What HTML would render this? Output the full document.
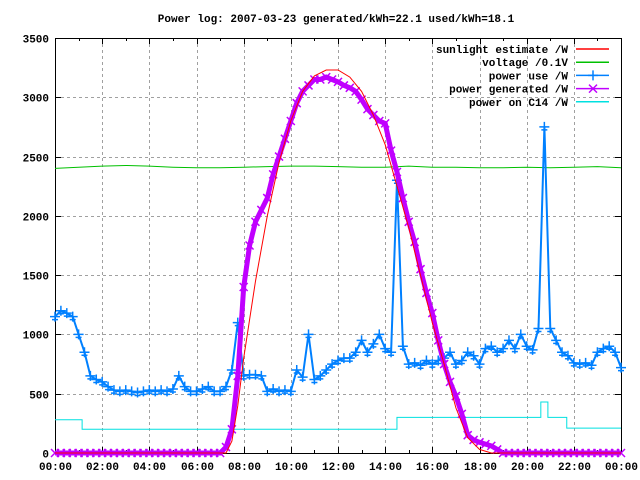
<!DOCTYPE html>
<html><head><meta charset="utf-8"><style>
html,body{margin:0;padding:0;background:#fff;}
svg{display:block;}
text{font-family:"Liberation Mono",monospace;font-size:11px;font-weight:bold;fill:#000;}
</style></head><body>
<svg id="chart" width="640" height="480" viewBox="0 0 640 480" xmlns="http://www.w3.org/2000/svg">
<text x="336" y="22" text-anchor="middle">Power log: 2007-03-23 generated/kWh=22.1 used/kWh=18.1</text>
<g id="grid"></g>
<g id="axes"></g>
<g id="series"></g>
<g id="legend"></g>
</svg>
<script>
const yTicks = [0,500,1000,1500,2000,2500,3000,3500];
const xTickLabels = ["00:00","02:00","04:00","06:00","08:00","10:00","12:00","14:00","16:00","18:00","20:00","22:00","00:00"];
const sunTimes = [0,7.25,7.5,7.75,8,8.5,9,9.5,10,10.5,11,11.5,12,12.5,13,13.5,14,14.5,15,15.5,16,16.5,17,17.5,18,18.5,24];
const sunValues = [0,0,100,400,800,1450,2000,2450,2800,3050,3180,3230,3230,3170,3050,2850,2600,2250,1900,1500,1100,750,380,130,30,0,0];
const voltTimes = [0,1,2,3,4,5,6,7,8,9,10,11,12,13,14,15,16,17,18,19,20,21,22,23,24];
const voltValues = [2400,2410,2420,2425,2420,2410,2405,2405,2410,2415,2420,2420,2415,2410,2410,2420,2410,2410,2405,2405,2410,2405,2410,2415,2405];
const useValues = [1150,1200,1180,1150,1000,850,650,620,600,560,530,520,530,520,510,520,530,520,530,520,540,650,560,520,520,540,560,520,520,560,700,1100,650,660,660,650,520,540,520,530,520,700,640,1000,620,650,700,750,780,800,800,850,950,850,920,1000,880,850,2300,900,750,760,740,780,750,780,800,850,750,780,850,820,750,880,900,850,880,950,880,1000,900,870,1050,2750,1050,950,850,820,760,750,760,740,850,880,900,850,720];
const genValues = [0,0,0,0,0,0,0,0,0,0,0,0,0,0,0,0,0,0,0,0,0,0,0,0,0,0,0,0,0,50,200,650,1400,1750,1950,2050,2150,2350,2500,2650,2800,2950,3050,3100,3150,3150,3170,3150,3130,3100,3080,3050,2980,2900,2850,2800,2780,2550,2370,2150,1950,1780,1550,1350,1180,950,750,600,480,330,150,110,90,75,60,30,0,0,0,0,0,0,0,0,0,0,0,0,0,0,0,0,0,0,0,0,0];
const c14Times = [0,1.15,14.5,20.6,20.9,21.7,24];
const c14Values = [280,200,300,430,300,210];

const X0=55,X1=621,Y0=453,Y1=38;
const xs=h=>X0+(X1-X0)*h/24;
const ys=v=>Y0-(Y0-Y1)*v/3500;
const NS="http://www.w3.org/2000/svg";
function mk(tag,parent,attrs){const e=document.createElementNS(NS,tag);for(const k in attrs)e.setAttribute(k,attrs[k]);parent.appendChild(e);return e;}
const grid=document.getElementById('grid'),axes=document.getElementById('axes'),series=document.getElementById('series'),legend=document.getElementById('legend');

yTicks.forEach(v=>{
  const y=Math.round(ys(v))+0.5;
  if(v>0&&v<3500){const g=mk('line',grid,{x1:X0,x2:X1,y1:y,y2:y,stroke:'#a0a0a0','stroke-dasharray':'3,3'});
  
  }
  mk('line',axes,{x1:X0,x2:X0+6,y1:y,y2:y,stroke:'#000'});
  mk('line',axes,{x1:X1-6,x2:X1,y1:y,y2:y,stroke:'#000'});
  const t=mk('text',axes,{x:X0-6,y:y+4,'text-anchor':'end'});t.textContent=v;
  
  
});
xTickLabels.forEach((lab,i)=>{
  const x=Math.round(xs(i*2))+0.5;
  if(i>0&&i<12){const g=mk('line',grid,{x1:x,x2:x,y1:Y1,y2:Y0,stroke:'#a0a0a0','stroke-dasharray':'3,3'});
  
  }
  mk('line',axes,{x1:x,x2:x,y1:Y0,y2:Y0-6,stroke:'#000'});
  mk('line',axes,{x1:x,x2:x,y1:Y1,y2:Y1+6,stroke:'#000'});
  const t=mk('text',axes,{x:x,y:Y0+17,'text-anchor':'middle'});t.textContent=lab;
  
  
});
for(let h=1;h<24;h+=2){const x=Math.round(xs(h))+0.5;
  mk('line',axes,{x1:x,x2:x,y1:Y0,y2:Y0-3,stroke:'#000'});
  mk('line',axes,{x1:x,x2:x,y1:Y1,y2:Y1+3,stroke:'#000'});}
const frame=mk('rect',axes,{x:X0+0.5,y:Y1+0.5,width:X1-X0,height:Y0-Y1,fill:'none',stroke:'#000'});



function pts(times,vals){return vals.map((v,i)=>xs(times[i]).toFixed(1)+','+ys(v).toFixed(1)).join(' ');}
const q=useValues.map((_,i)=>i*0.25);

const volt=mk('polyline',series,{points:pts(voltTimes,voltValues),fill:'none',stroke:'#00c000','stroke-width':1});


let sp=[];c14Values.forEach((v,i)=>{sp.push(xs(c14Times[i])+','+ys(v));sp.push(xs(c14Times[i+1])+','+ys(v));});
const c14=mk('polyline',series,{points:sp.join(' '),fill:'none',stroke:'#00e0e0','stroke-width':1});


const use=mk('polyline',series,{points:pts(q,useValues),fill:'none',stroke:'#0080ff','stroke-width':2});


useValues.forEach((v,i)=>{const x=xs(q[i]),y=ys(v);
  const p=mk('path',series,{d:`M${x-5},${y}h10M${x},${y-5}v10M${x-3},${y+3}h6`,stroke:'#0080ff','stroke-width':1.5});
  
  });
const gen=mk('polyline',series,{points:pts(q,genValues),fill:'none',stroke:'#c000ff','stroke-width':5});


genValues.forEach((v,i)=>{const x=xs(q[i]),y=ys(v);
  const p=mk('path',series,{d:`M${x-4},${y-4}l8,8M${x-4},${y+4}l8,-8`,stroke:'#c000ff','stroke-width':1.5});
  
  });
const sun=mk('polyline',series,{points:pts(sunTimes,sunValues),fill:'none',stroke:'#ff0000','stroke-width':1});



const entries=[["sunlight estimate /W","#ff0000",""],["voltage /0.1V","#00c000",""],["power use /W","#0080ff","+"],["power generated /W","#c000ff","x"],["power on C14 /W","#00e0e0",""]];
entries.forEach((e,i)=>{const y=49+i*13.2;
  const t=mk('text',legend,{x:568,y:y+4,'text-anchor':'end'});t.textContent=e[0];
  
  
  const l=mk('line',legend,{x1:576,x2:609,y1:y,y2:y,stroke:e[1],'stroke-width':1.5});
  
  
  if(e[2]==='+')mk('path',legend,{d:`M588,${y}h10M593,${y-5}v10`,stroke:e[1],'stroke-width':1.5});
  if(e[2]==='x')mk('path',legend,{d:`M589,${y-4}l8,8M589,${y+4}l8,-8`,stroke:e[1],'stroke-width':1.5});
});
</script>
</body></html>
